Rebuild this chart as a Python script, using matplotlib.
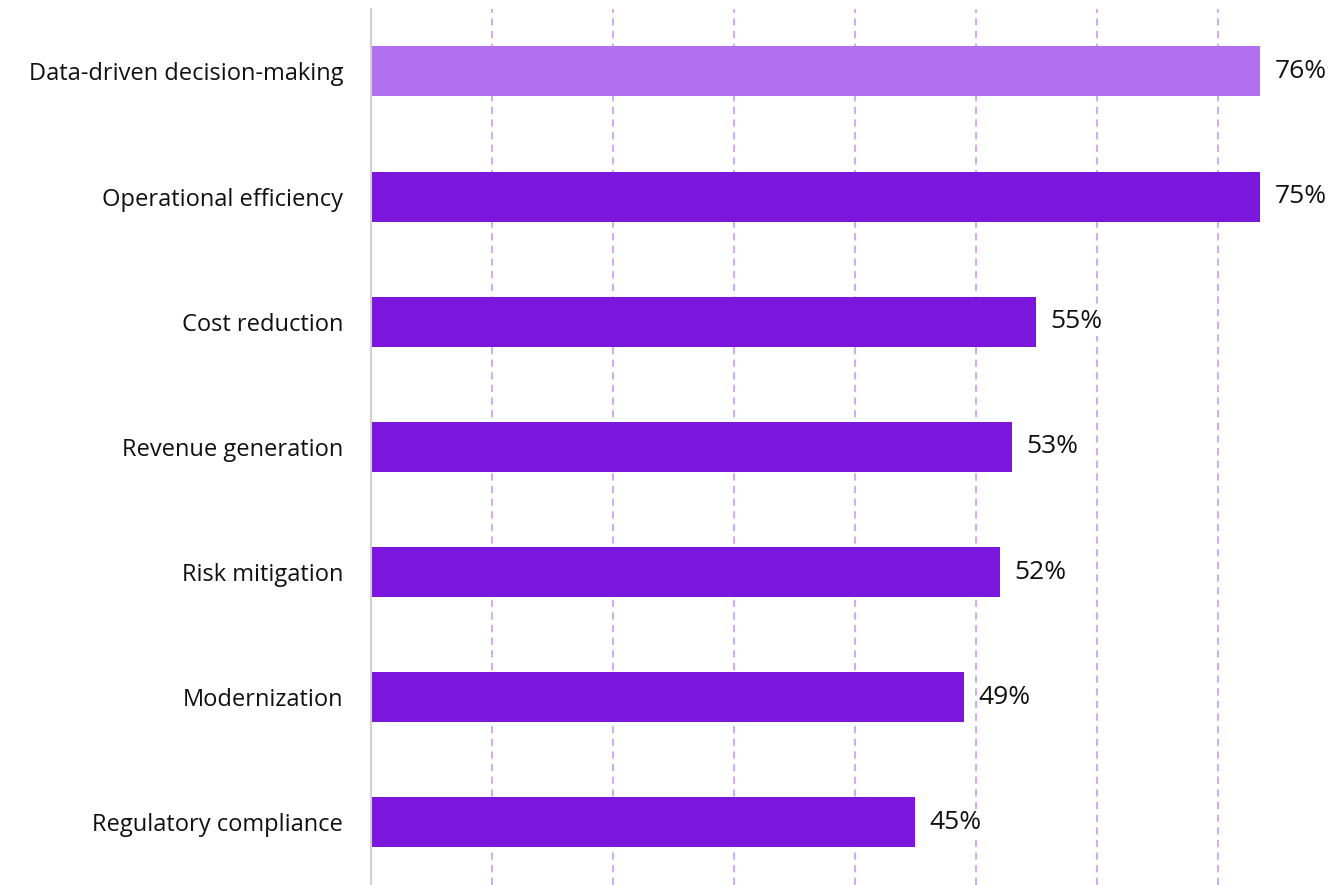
import matplotlib
matplotlib.use("Agg")
import matplotlib.pyplot as plt

categories = [
    "Data-driven decision-making",
    "Operational efficiency",
    "Cost reduction",
    "Revenue generation",
    "Risk mitigation",
    "Modernization",
    "Regulatory compliance",
]
values = [0.76, 0.75, 0.55, 0.53, 0.52, 0.49, 0.45]
labels = ["76%", "75%", "55%", "53%", "52%", "49%", "45%"]

HIGHLIGHT = "#B070F0"
BASE = "#7B16DC"
GRID = "#CFA3F5"
XMAX = 0.735

plt.rcParams["font.family"] = ["Open Sans", "DejaVu Sans"]

fig = plt.figure(figsize=(13.39, 8.85), dpi=100)
ax = fig.add_axes([0.277, 0.0, 0.664, 0.99])

colors = [HIGHLIGHT] + [BASE] * (len(values) - 1)
y = range(len(categories))
ax.barh(y, values, height=0.4, color=colors, zorder=2)

# value labels sit past the bar end (bars longer than the axis are clipped)
for yi, v, lab in zip(y, values, labels):
    ax.text(min(v, XMAX) + 0.012, yi, lab, va="center", ha="left",
            fontsize=19, color="#111111", zorder=3, clip_on=False,
            bbox=dict(facecolor="white", edgecolor="none", pad=1))

ax.set_xlim(0, XMAX)
ax.set_ylim(6.5, -0.5)
ax.set_xticks([0.1, 0.2, 0.3, 0.4, 0.5, 0.6, 0.7])
ax.xaxis.grid(True, color=GRID, linestyle=(0, (4, 3)), linewidth=1.3, zorder=0)
ax.set_axisbelow(True)
ax.tick_params(axis="x", length=0, labelbottom=False)
ax.tick_params(axis="y", length=0, pad=20)
ax.set_yticks(list(y))
ax.set_yticklabels(categories, fontsize=17, color="#111111")

for s in ("top", "right", "bottom"):
    ax.spines[s].set_visible(False)
ax.spines["left"].set_color("#D0D0D0")
ax.spines["left"].set_linewidth(1.5)

fig.savefig("out.png", dpi=100)
